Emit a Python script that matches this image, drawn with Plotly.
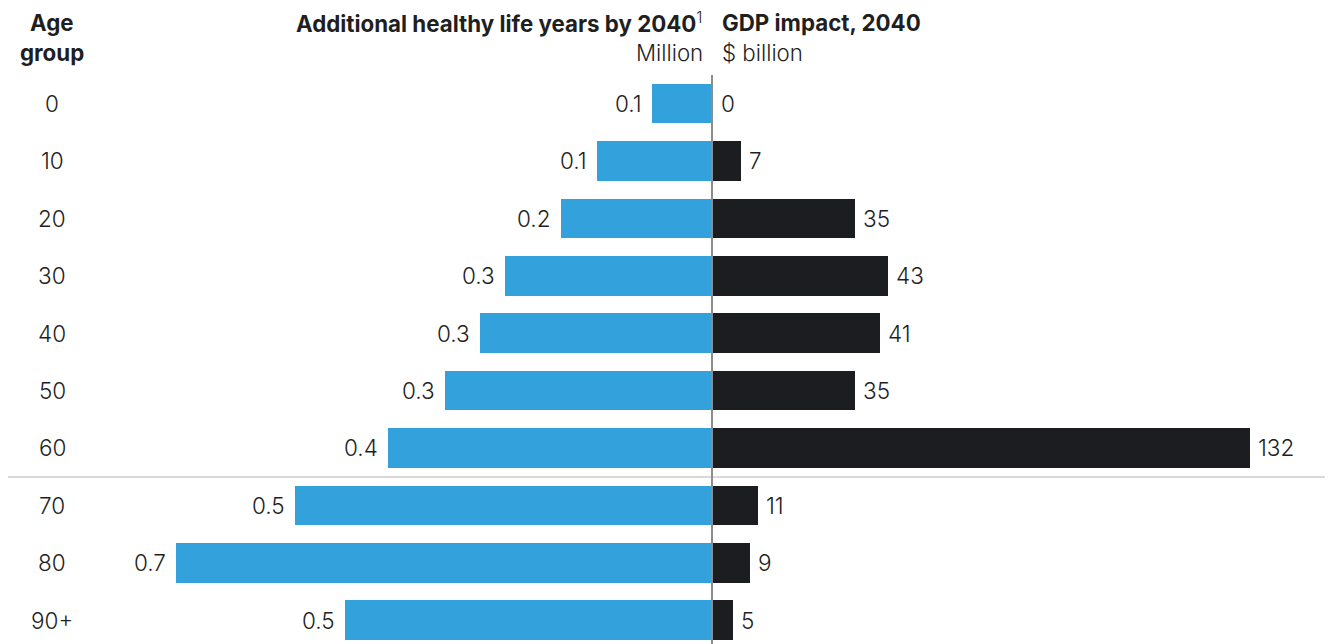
import plotly.graph_objects as go

# Age groups (top to bottom)
age_groups = ["0", "10", "20", "30", "40", "50", "60", "70", "80", "90+"]
# Additional healthy life years by 2040, million (shown rounded to 1 decimal)
healthy_years = [0.076, 0.146, 0.191, 0.262, 0.294, 0.338, 0.410, 0.528, 0.678, 0.465]
# GDP impact in 2040, $ billion
gdp_impact = [0, 7, 35, 43, 41, 35, 132, 11, 9, 5]

W, H = 1328, 644
BLUE = "#33a1db"
DARK = "#1b1d20"
TEXT = "#1f1f1f"
FONT = "Inter"
LABEL_SIZE = 22.5
HEAD_SIZE = 22.3

rows = list(range(len(age_groups)))
center_px = 712  # x position of the dividing axis

fig = go.Figure()

fig.add_trace(go.Bar(
    x=healthy_years, y=rows, orientation="h", width=0.69,
    marker=dict(color=BLUE, line=dict(width=0)),
    xaxis="x", yaxis="y", hoverinfo="skip", showlegend=False,
))
fig.add_trace(go.Bar(
    x=gdp_impact, y=rows, orientation="h", width=0.69,
    marker=dict(color=DARK, line=dict(width=0)),
    xaxis="x2", yaxis="y", hoverinfo="skip", showlegend=False,
))

left_px_per_unit = 790.0
right_px_per_unit = 4.068

fig.update_layout(
    width=W, height=H,
    margin=dict(l=0, r=0, t=0, b=0),
    paper_bgcolor="white", plot_bgcolor="white",
    font=dict(family=FONT, color=TEXT, size=LABEL_SIZE),
    bargap=0,
    xaxis=dict(domain=[0, center_px / W], range=[center_px / left_px_per_unit, 0],
               visible=False, fixedrange=True),
    xaxis2=dict(domain=[(center_px + 1) / W, 1],
                range=[0, (W - center_px - 1) / right_px_per_unit],
                visible=False, fixedrange=True),
    yaxis=dict(range=[(H - 103.5) / 57.4, -103.5 / 57.4], visible=False, fixedrange=True),
)

light = dict(size=LABEL_SIZE, color=TEXT, family=FONT, weight=300)
head = dict(size=HEAD_SIZE, color=TEXT, family=FONT, weight=300)

annotations = []
# value labels
for i, v in enumerate(healthy_years):
    annotations.append(dict(x=v, y=i, xref="x", yref="y", text=f"{v:.1f}",
                            xanchor="right", yanchor="middle", xshift=-8,
                            showarrow=False, font=light))
for i, v in enumerate(gdp_impact):
    annotations.append(dict(x=v, y=i, xref="x2", yref="y", text=f"{v:d}",
                            xanchor="left", yanchor="middle", xshift=6,
                            showarrow=False, font=light))
# age group labels
for i, a in enumerate(age_groups):
    annotations.append(dict(x=52 / W, y=i, xref="paper", yref="y", text=a,
                            xanchor="center", yanchor="middle",
                            showarrow=False, font=light))

def py(px):
    return 1 - px / H

# headers
annotations += [
    dict(x=52 / W, y=py(22), xref="paper", yref="paper", text="<b>Age</b>",
         xanchor="center", yanchor="middle", showarrow=False, font=head),
    dict(x=52 / W, y=py(52), xref="paper", yref="paper", text="<b>group</b>",
         xanchor="center", yanchor="middle", showarrow=False, font=head),
    dict(x=705 / W, y=py(22), xref="paper", yref="paper",
         text="<b>Additional healthy life years by 2040</b><sup>1</sup>",
         xanchor="right", yanchor="middle", showarrow=False, font=head),
    dict(x=705 / W, y=py(52), xref="paper", yref="paper", text="Million",
         xanchor="right", yanchor="middle", showarrow=False, font=head),
    dict(x=720 / W, y=py(22), xref="paper", yref="paper", text="<b>GDP impact, 2040</b>",
         xanchor="left", yanchor="middle", showarrow=False, font=head),
    dict(x=720 / W, y=py(52), xref="paper", yref="paper", text="$ billion",
         xanchor="left", yanchor="middle", showarrow=False, font=head),
]
fig.update_layout(annotations=annotations)

fig.update_layout(shapes=[
    # separator between 60 and 70
    dict(type="line", xref="paper", yref="paper", x0=8 / W, x1=1325 / W,
         y0=py(477), y1=py(477), line=dict(color="#cccccc", width=1.5), layer="below"),
    # central axis
    dict(type="line", xref="paper", yref="paper", x0=center_px / W, x1=center_px / W,
         y0=0, y1=py(75), line=dict(color="#8c8c8c", width=2), layer="above"),
])

fig.write_html("out.html", config={"displayModeBar": False})
